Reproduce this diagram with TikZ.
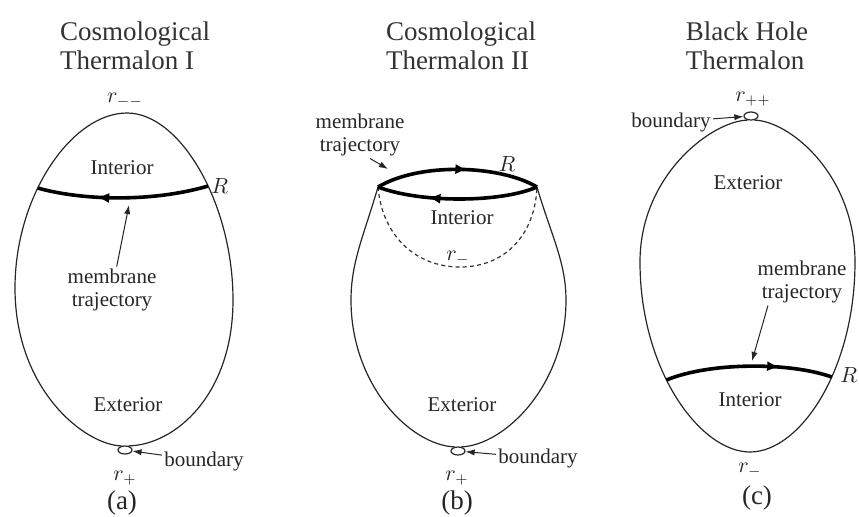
\documentclass[tikz,border=0pt]{standalone}
\usepackage{fontspec}
\setmainfont{Liberation Serif}
\usetikzlibrary{
    arrows.meta,
    shapes.geometric,
    intersections,
    decorations.markings
}

\begin{document}
\begin{tikzpicture}[
    x=0.5pt, y=-0.5pt,
    font=\fontsize{10.5}{11.5}\selectfont,
    egg/.style={
        draw=black!85,
        line width=0.6pt
    },
    membrane/.style={
        draw=black,
        line width=1.8pt
    },
    horizon/.style={
        draw=black!80,
        line width=0.6pt,
        dash pattern=on 2pt off 1.6pt
    },
    midarrow/.style={
        postaction={decorate, decoration={markings,
            mark=at position #1 with {\arrow{Latex[length=2.1mm,width=1.8mm]}}}}
    },
    pointer/.style={
        -{Latex[length=1.6mm,width=1.1mm]},
        line width=0.5pt,
        draw=black!85
    },
    bnd/.style={
        ellipse,
        draw=black!85,
        line width=0.6pt,
        minimum width=7pt,
        minimum height=4pt,
        inner sep=0pt
    },
    note/.style={
        align=center,
        inner sep=1pt,
        text=black!85
    },
    heading/.style={
        align=left,
        anchor=north,
        inner sep=0pt,
        font=\fontsize{13.5}{14.5}\selectfont,
        text=black!80
    },
    sublabel/.style={
        font=\fontsize{13.5}{14.5}\selectfont,
        text=black!85
    }
]
\useasboundingbox (0,0) rectangle (859,516);

% =========================================================
% (a) Cosmological Thermalon I
% =========================================================
\node[bnd] (bndA) at (125,450) {};

\draw[egg, name path=eggA] (bndA.130) .. controls (85,445) and (15,390) .. (15,288)
    .. controls (15,195) and (72,113) .. (127,113)
    .. controls (180,113) and (233,203) .. (233,300)
    .. controls (233,395) and (175,445) .. (bndA.50);

\path[name path=cutAl] (0,188) -- (120,188);
\path[name path=cutAr] (130,186) -- (250,186);
\path[name intersections={of=eggA and cutAl, by=mlA}];
\path[name intersections={of=eggA and cutAr, by=mrA}];

\draw[membrane, midarrow=0.65] (mrA) .. controls (150,203) and (80,200) .. (mlA);

\node[heading] (ttlA) at (135,21) {Cosmological\\Thermalon I};
\node[note] (rmmA) at (125,100) {$r_{--}$};
\node[note] (intA) at (122,168) {Interior};
\node[note, anchor=west] (RA) at (209,186) {$R$};
\node[note] (mlabA) at (112,290) {membrane\\trajectory};
\coordinate (mtA) at (129,205);
\node[note] (extA) at (128,405) {Exterior};
\node[note, anchor=west] (blabA) at (162,461) {boundary};
\node[note] (rpA) at (125,478) {$r_{+}$};
\node[sublabel] (capA) at (122,503) {(a)};

\draw[pointer] (mlabA) -- (mtA);
\draw[pointer] (blabA) -- (bndA);

% =========================================================
% (b) Cosmological Thermalon II
% =========================================================
\coordinate (llB) at (378,187);
\coordinate (lrB) at (537,187);
\node[bnd] (bndB) at (458,451) {};

\draw[egg] (llB) .. controls (364,235) and (351,262) .. (351,300)
    .. controls (351,385) and (410,445) .. (bndB.130);
\draw[egg] (lrB) .. controls (551,235) and (566,262) .. (566,300)
    .. controls (566,385) and (505,445) .. (bndB.50);

\draw[horizon] (llB) .. controls (382,235) and (415,267) .. (460,267)
    .. controls (505,267) and (535,235) .. (lrB);

\draw[membrane, midarrow=0.56] (llB) .. controls (420,162) and (500,165) .. (lrB);
\draw[membrane, midarrow=0.68] (lrB) .. controls (500,203) and (420,203) .. (llB);

\node[heading] (ttlB) at (461,21) {Cosmological\\Thermalon II};
\node[note] (mlabB) at (360,135) {membrane\\trajectory};
\coordinate (mtB) at (388,169);
\node[note] (RB) at (507,164) {$R$};
\node[note] (intB) at (462,218) {Interior};
\node[note] (rmB) at (458,258) {$r_{-}$};
\node[note] (extB) at (462,405) {Exterior};
\node[note, anchor=west] (blabB) at (496,458) {boundary};
\node[note] (rpB) at (457,478) {$r_{+}$};
\node[sublabel] (capB) at (457,503) {(b)};

\draw[pointer] ([xshift=5pt]mlabB.south) -- (mtB);
\draw[pointer] (blabB) -- (bndB);

% =========================================================
% (c) Black Hole Thermalon
% =========================================================
\node[bnd] (bndC) at (751,116) {};

\draw[egg, name path=eggC] (bndC.-50) .. controls (790,121) and (855,175) .. (855,262)
    .. controls (855,370) and (800,452) .. (750,452)
    .. controls (700,452) and (640,370) .. (640,262)
    .. controls (640,175) and (712,121) .. (bndC.-130);

\path[name path=cutCl] (620,380) -- (745,380);
\path[name path=cutCr] (755,377) -- (859,377);
\path[name intersections={of=eggC and cutCl, by=mlC}];
\path[name intersections={of=eggC and cutCr, by=mrC}];

\draw[membrane, midarrow=0.68] (mlC) .. controls (710,362) and (790,362) .. (mrC);

\node[heading] (ttlC) at (747,21) {Black Hole\\Thermalon};
\node[note] (rppC) at (753,99) {$r_{++}$};
\node[note, anchor=east] (blabC) at (713,122) {boundary};
\node[note] (extC) at (748,183) {Exterior};
\node[note] (mlabC) at (802,282) {membrane\\trajectory};
\coordinate (mtC) at (752,361);
\node[note, anchor=west] (RC) at (838,375) {$R$};
\node[note] (intC) at (750,400) {Interior};
\node[note] (rmC) at (750,470) {$r_{-}$};
\node[sublabel] (capC) at (757,498) {(c)};

\draw[pointer] ([xshift=-17pt]mlabC.south) -- (mtC);
\draw[pointer] (blabC) -- (bndC);

\end{tikzpicture}
\end{document}
